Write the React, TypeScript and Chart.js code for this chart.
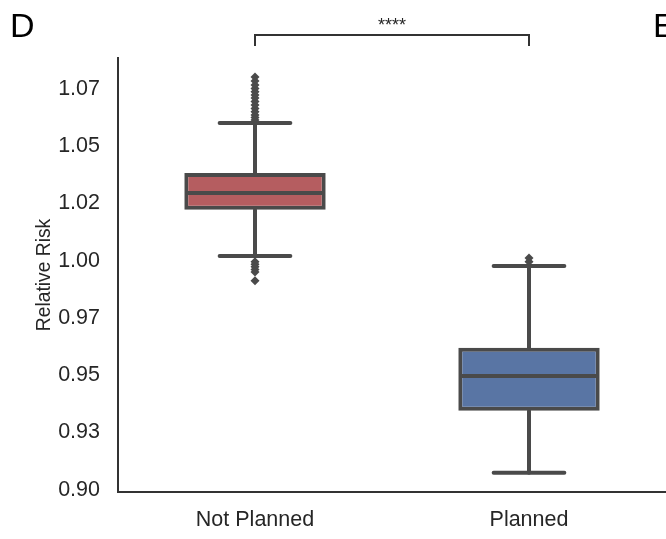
import React, { useEffect, useRef } from "react";
import { Chart, registerables } from "chart.js";

Chart.register(...registerables);

const categories = ["Not Planned", "Planned"];
const q1 = [1.0222, 0.9345];
const q3 = [1.0383, 0.962];
const medians = [1.0296, 0.9497];
const whiskerLow = [1.0021, 0.9074];
const whiskerHigh = [1.0601, 0.9977];
const outliersNotPlanned = [
  1.0802, 1.0785, 1.0767, 1.0752, 1.0738, 1.0723, 1.071, 1.0695, 1.068, 1.0665,
  1.065, 1.0636, 1.0625, 1.0614, 0.9995, 0.9984, 0.9973, 0.9962, 0.9951, 0.9912,
];
const outliersPlanned = [1.0012, 0.9995];
const boxColors = ["#b55d60", "#5975a4"];
const yTickValues = [0.9, 0.925, 0.95, 0.975, 1.0, 1.025, 1.05, 1.075];
const yTickLabels = ["0.90", "0.93", "0.95", "0.97", "1.00", "1.02", "1.05", "1.07"];
const significanceLabel = "****";
const panelLetter = "D";
const nextPanelLetter = "E";

const LINE = "#4a4a4a";
const TEXT = "#262626";
const FONT = "'Liberation Sans', Arial, sans-serif";

const boxPlugin = {
  id: "boxParts",
  beforeDatasetsDraw(chart: any) {
    const { ctx } = chart;
    const xs = chart.scales.x;
    const ys = chart.scales.y;
    const meta = chart.getDatasetMeta(0);
    ctx.save();
    ctx.strokeStyle = LINE;
    ctx.lineWidth = 4;
    ctx.lineCap = "round";
    categories.forEach((_, i) => {
      const x = xs.getPixelForValue(i);
      const bw = meta.data[i] ? meta.data[i].width : 140;
      const capHalf = bw / 4;
      ctx.beginPath();
      ctx.moveTo(x, ys.getPixelForValue(whiskerHigh[i]));
      ctx.lineTo(x, ys.getPixelForValue(q3[i]));
      ctx.moveTo(x, ys.getPixelForValue(q1[i]));
      ctx.lineTo(x, ys.getPixelForValue(whiskerLow[i]));
      ctx.stroke();
      ctx.beginPath();
      ctx.moveTo(x - capHalf, ys.getPixelForValue(whiskerHigh[i]));
      ctx.lineTo(x + capHalf, ys.getPixelForValue(whiskerHigh[i]));
      ctx.moveTo(x - capHalf, ys.getPixelForValue(whiskerLow[i]));
      ctx.lineTo(x + capHalf, ys.getPixelForValue(whiskerLow[i]));
      ctx.stroke();
    });
    ctx.restore();
  },
  afterDatasetsDraw(chart: any) {
    const { ctx } = chart;
    const xs = chart.scales.x;
    const ys = chart.scales.y;
    const meta = chart.getDatasetMeta(0);
    ctx.save();
    ctx.strokeStyle = LINE;
    ctx.lineWidth = 4;
    ctx.lineCap = "butt";
    categories.forEach((_, i) => {
      const x = xs.getPixelForValue(i);
      const bw = meta.data[i] ? meta.data[i].width : 140;
      const y = ys.getPixelForValue(medians[i]);
      ctx.beginPath();
      ctx.moveTo(x - bw / 2 + 2, y);
      ctx.lineTo(x + bw / 2 - 2, y);
      ctx.stroke();
    });
    ctx.restore();
  },
  afterDraw(chart: any) {
    const { ctx } = chart;
    const xs = chart.scales.x;
    const x0 = xs.getPixelForValue(0);
    const x1 = xs.getPixelForValue(1);
    ctx.save();
    ctx.strokeStyle = "#333333";
    ctx.lineWidth = 2;
    ctx.beginPath();
    ctx.moveTo(x0, 46);
    ctx.lineTo(x0, 35);
    ctx.lineTo(x1, 35);
    ctx.lineTo(x1, 46);
    ctx.stroke();
    ctx.fillStyle = TEXT;
    ctx.font = `18px ${FONT}`;
    ctx.textAlign = "center";
    ctx.textBaseline = "alphabetic";
    ctx.fillText(significanceLabel, (x0 + x1) / 2, 30.5);
    ctx.fillStyle = "#000000";
    ctx.font = `34px ${FONT}`;
    ctx.textAlign = "left";
    ctx.textBaseline = "alphabetic";
    ctx.fillText(panelLetter, 10, 37);
    ctx.fillText(nextPanelLetter, 653, 37);
    ctx.restore();
  },
};

export default function App() {
  const ref = useRef<HTMLCanvasElement | null>(null);
  useEffect(() => {
    if (!ref.current) return;
    const chart = new Chart(ref.current, {
      type: "bar",
      data: {
        labels: categories,
        datasets: [
          {
            type: "bar",
            data: q1.map((v, i) => [v, q3[i]]) as any,
            backgroundColor: boxColors,
            borderColor: LINE,
            borderWidth: 4,
            borderSkipped: false,
            categoryPercentage: 1,
            barPercentage: 0.516,
          } as any,
          {
            type: "line",
            data: [
              ...outliersNotPlanned.map((v) => ({ x: categories[0], y: v })),
              ...outliersPlanned.map((v) => ({ x: categories[1], y: v })),
            ] as any,
            showLine: false,
            pointStyle: "rectRot",
            pointRadius: 4.5,
            pointBackgroundColor: LINE,
            pointBorderColor: LINE,
            pointBorderWidth: 0,
          } as any,
        ],
      },
      options: {
        responsive: false,
        animation: false,
        layout: { autoPadding: false, padding: { top: 58, left: 0, right: 0, bottom: 0 } },
        plugins: { legend: { display: false }, tooltip: { enabled: false } },
        scales: {
          x: {
            type: "category",
            offset: true,
            grid: { display: false, drawTicks: false },
            border: { display: true, color: "#333333", width: 2 },
            ticks: { color: TEXT, font: { family: FONT, size: 21.5 }, padding: 15 },
            afterFit: (s: any) => {
              s.height = 47;
            },
          },
          y: {
            type: "linear",
            min: 0.899,
            max: 1.0885,
            grid: { display: false, drawTicks: false },
            border: { display: true, color: "#333333", width: 2 },
            afterBuildTicks: (s: any) => {
              s.ticks = yTickValues.map((v) => ({ value: v }));
            },
            ticks: {
              color: TEXT,
              font: { family: FONT, size: 21.5 },
              padding: 18,
              callback: (_v: any, i: number) => yTickLabels[i],
            },
            title: {
              display: true,
              text: "Relative Risk",
              color: TEXT,
              font: { family: FONT, size: 19.3 },
              padding: { top: 33, bottom: 0 },
            },
            afterFit: (s: any) => {
              s.width = 118;
            },
          },
        },
      },
      plugins: [boxPlugin],
    });
    return () => chart.destroy();
  }, []);
  return (
    <div style={{ position: "fixed", left: 0, top: 0, width: 666, height: 539, background: "#fff" }}>
      <canvas ref={ref} width={666} height={539} style={{ width: 666, height: 539 }} />
    </div>
  );
}
